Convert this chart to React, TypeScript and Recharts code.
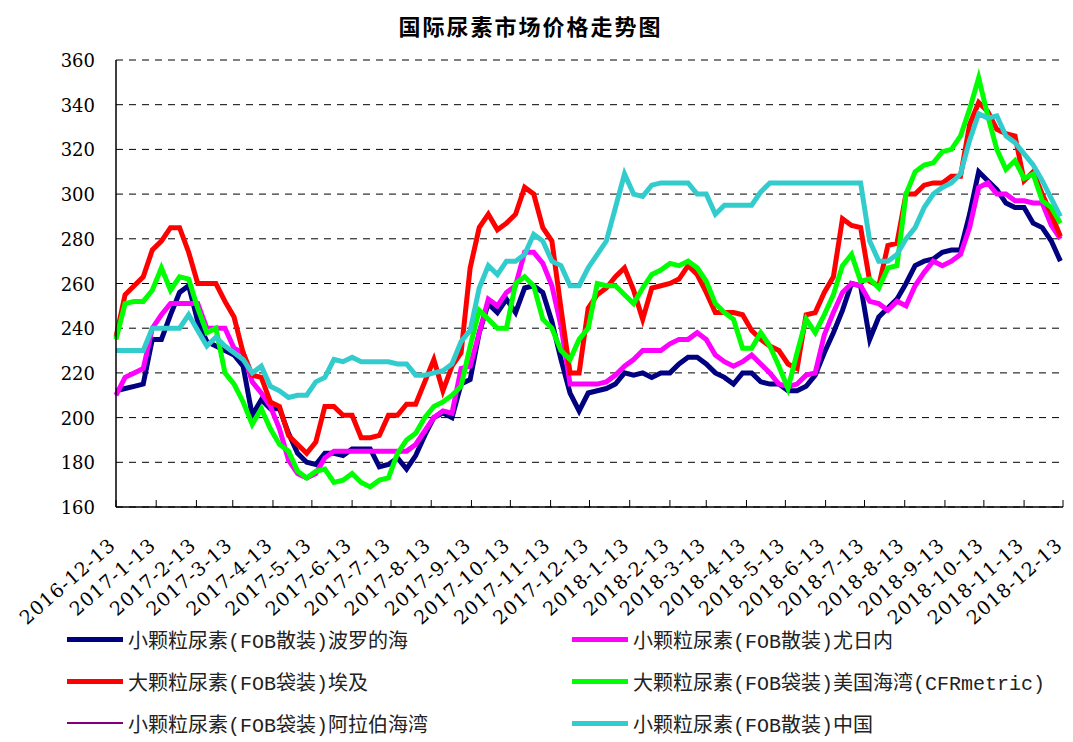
import { LineChart, Line, XAxis, YAxis, CartesianGrid } from 'recharts';

// monthly tick labels on the date axis
const monthTicks = [
  '2016-12-13', '2017-1-13', '2017-2-13', '2017-3-13', '2017-4-13', '2017-5-13', '2017-6-13',
  '2017-7-13', '2017-8-13', '2017-9-13', '2017-10-13', '2017-11-13', '2017-12-13', '2018-1-13',
  '2018-2-13', '2018-3-13', '2018-4-13', '2018-5-13', '2018-6-13', '2018-7-13', '2018-8-13',
  '2018-9-13', '2018-10-13', '2018-11-13', '2018-12-13',
];

const yTicks = [160, 180, 200, 220, 240, 260, 280, 300, 320, 340, 360];

// weekly prices, first week = 2016-12-13
const baltic = [
  212, 213, 214, 215, 235, 235, 246, 256, 259, 243, 234, 232, 230, 228, 223, 201, 208, 204,
  204, 193, 184, 180, 179, 184, 184, 183, 186, 186, 186, 178, 179, 182, 177, 183, 192,
  200, 202, 200, 215, 217, 238, 251, 247, 253, 247, 258, 259, 256, 243, 226, 211, 203, 211,
  212, 213, 215, 220, 219, 220, 218, 220, 220, 224, 227, 227, 224, 220, 218, 215, 220, 220,
  216, 215, 215, 212, 212, 214, 219, 229, 238, 248, 260, 259, 235, 245, 249, 253,
  260, 268, 270, 271, 274, 275, 275, 291, 310, 306, 302, 296, 294, 294, 287, 285, 279, 270,
];

const yuzhny = [
  210, 218, 220, 222, 240, 246, 251, 251, 251, 251, 240, 240, 240, 231, 229, 216, 211, 205,
  195, 181, 175, 173, 175, 182, 185, 185, 185, 185, 185, 185, 185, 185, 185, 188, 194,
  200, 203, 202, 222, 223, 238, 253, 250, 256, 259, 274, 274, 269, 259, 241, 215, 215, 215,
  215, 216, 219, 223, 226, 230, 230, 230, 233, 235, 235, 238, 235, 228, 225, 223, 225, 228,
  224, 220, 215, 214, 215, 219, 220, 237, 247, 256, 260, 259, 252, 251, 248, 252,
  250, 259, 265, 270, 268, 270, 273, 285, 303, 305, 300, 300, 297, 297, 296, 296, 286, 280,
];

const egypt = [
  236, 255, 259, 263, 275, 279, 285, 285, 274, 260, 260, 260, 252, 245, 229, 219, 218, 207,
  205, 192, 188, 184, 189, 205, 205, 201, 201, 191, 191, 192, 201, 201, 206, 206, 216,
  226, 212, 223, 229, 267, 285, 291, 284, 287, 291, 303, 300, 285, 279, 249, 220, 220, 249,
  255, 258, 263, 267, 257, 244, 258, 259, 260, 262, 268, 264, 256, 247, 247, 247, 246, 239,
  235, 232, 230, 224, 222, 246, 247, 256, 263, 289, 286, 285, 261, 259, 277, 278,
  300, 300, 304, 305, 305, 308, 308, 331, 341, 337, 329, 327, 326, 306, 310, 300, 291, 281,
];

const usGulf = [
  235, 251, 252, 252, 257, 267, 257, 263, 262, 249, 238, 240, 220, 215, 207, 197, 204, 195,
  188, 185, 176, 173, 176, 177, 171, 172, 175, 171, 169, 172, 173, 184, 190, 193, 200,
  205, 207, 210, 214, 232, 248, 244, 240, 240, 260, 263, 259, 244, 240, 230, 226, 235, 240,
  260, 259, 259, 255, 251, 258, 264, 266, 269, 268, 270, 267, 261, 251, 247, 244, 231, 231,
  238, 232, 223, 213, 229, 244, 238, 246, 255, 268, 273, 261, 262, 258, 267, 268,
  300, 310, 313, 314, 319, 320, 326, 338, 352, 335, 320, 311, 315, 307, 309, 297, 294, 287,
];

const china = [
  230, 230, 230, 230, 240, 240, 240, 240, 246, 239, 232, 236, 232, 229, 226, 220, 223, 214,
  212, 209, 210, 210, 216, 218, 226, 225, 227, 225, 225, 225, 225, 224, 224, 219, 219,
  220, 221, 224, 234, 239, 258, 268, 264, 270, 270, 273, 282, 279, 270, 268, 259, 259, 267,
  273, 279, 294, 309, 300, 299, 304, 305, 305, 305, 305, 300, 300, 291, 295, 295, 295, 295,
  301, 305, 305, 305, 305, 305, 305, 305, 305, 305, 305, 305, 279, 270, 270, 273,
  280, 285, 294, 300, 303, 305, 309, 324, 336, 334, 335, 326, 323, 318, 313, 306, 298, 290,
];

const series = [
  { key: 'baltic', name: '小颗粒尿素(FOB散装)波罗的海', color: '#000080', width: 5 },
  { key: 'yuzhny', name: '小颗粒尿素(FOB散装)尤日内', color: '#FF00FF', width: 5 },
  { key: 'egypt', name: '大颗粒尿素(FOB袋装)埃及', color: '#FF0000', width: 5 },
  { key: 'usGulf', name: '大颗粒尿素(FOB袋装)美国海湾(CFRmetric)', color: '#00FF00', width: 5 },
  { key: 'arabGulf', name: '小颗粒尿素(FOB袋装)阿拉伯海湾', color: '#800080', width: 2 },
  { key: 'china', name: '小颗粒尿素(FOB散装)中国', color: '#33CCCC', width: 5 },
];

const START = Date.UTC(2016, 11, 13);
const toDay = (s: string) => {
  const [y, m, d] = s.split('-').map(Number);
  return Math.round((Date.UTC(y, m - 1, d) - START) / 86400000);
};
const tickDays = monthTicks.map(toDay);
const labelByDay: Record<number, string> = {};
monthTicks.forEach((s) => { labelByDay[toDay(s)] = s; });

const data = baltic.map((v, i) => ({
  day: i * 7,
  baltic: v,
  yuzhny: yuzhny[i],
  egypt: egypt[i],
  usGulf: usGulf[i],
  arabGulf: null,
  china: china[i],
}));

const DateTick = (props: any) => {
  const { x, y, payload } = props;
  const ax = x + 1;
  const ay = y + 40;
  return (
    <text
      x={ax}
      y={ay}
      transform={`rotate(-41, ${ax}, ${ay})`}
      textAnchor="end"
      fontFamily="DejaVu Serif"
      fontSize={19}
      letterSpacing={1}
      fill="#000"
    >
      {labelByDay[payload.value]}
    </text>
  );
};

const ValueTick = (props: any) => {
  const { x, y, payload } = props;
  return (
    <text x={x} y={y} dy={7} textAnchor="end" fontFamily="DejaVu Serif" fontSize={18} fill="#000">
      {payload.value}
    </text>
  );
};

const legendFont = "'Liberation Mono', 'Noto Sans CJK SC', monospace";

export default function App() {
  return (
    <div style={{ position: 'relative', width: 1065, height: 734, background: '#fff' }}>
      <div
        style={{
          position: 'absolute', left: 0, top: 6, width: 1045, textAlign: 'center',
          fontFamily: "'Noto Sans CJK SC', sans-serif", fontWeight: 700, fontSize: 22,
          letterSpacing: 2, lineHeight: '22px', color: '#000',
        }}
      >
        国际尿素市场价格走势图
      </div>
      <LineChart width={1065} height={620} data={data} margin={{ top: 52, right: 10, bottom: 11, left: 0 }}>
        <CartesianGrid horizontal vertical={false} stroke="#000" strokeDasharray="7 6" />
        <XAxis
          dataKey="day"
          type="number"
          domain={[0, 730]}
          ticks={tickDays}
          interval={0}
          height={110}
          tickSize={-7}
          tickMargin={7}
          axisLine={{ stroke: '#000', strokeWidth: 1.5 }}
          tickLine={{ stroke: '#000' }}
          tick={<DateTick />}
        />
        <YAxis
          type="number"
          domain={[160, 360]}
          ticks={yTicks}
          interval={0}
          width={108}
          tickLine={false}
          tickMargin={15}
          axisLine={{ stroke: '#000', strokeWidth: 1.5 }}
          tick={<ValueTick />}
        />
        {series.map((s) => (
          <Line
            key={s.key}
            dataKey={s.key}
            name={s.name}
            stroke={s.color}
            strokeWidth={s.width}
            dot={false}
            activeDot={false}
            type="linear"
            isAnimationActive={false}
          />
        ))}
      </LineChart>
      {series.map((s, i) => {
        const col = i % 2;
        const row = Math.floor(i / 2);
        const left = col === 0 ? 59 : 564;
        const cy = 631 + row * 42;
        return (
          <div key={s.key} style={{ position: 'absolute', left, top: cy - 14, height: 28, display: 'flex', alignItems: 'center' }}>
            <div style={{ width: 56, height: s.width === 2 ? 2 : 5, background: s.color }} />
            <span style={{ marginLeft: 5, fontFamily: legendFont, fontSize: 20, color: '#222', whiteSpace: 'nowrap' }}>
              {s.name}
            </span>
          </div>
        );
      })}
    </div>
  );
}
